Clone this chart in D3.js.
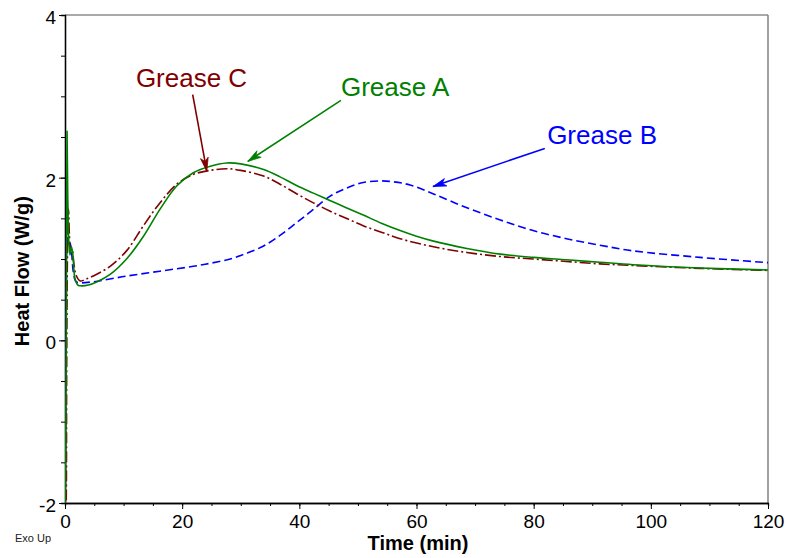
<!DOCTYPE html>
<html>
<head>
<meta charset="utf-8">
<script src="https://cdn.jsdelivr.net/npm/d3@7"></script>
<style>
  html, body { margin: 0; padding: 0; background: #fff; }
  svg { display: block; font-family: "Liberation Sans", Arial, sans-serif; }
</style>
</head>
<body>
<div id="chart"></div>
<script>
// ======================================================================
// DATA (time in min, heat flow in W/g)
// ======================================================================
const timeA = [0.05, 0.15, 0.25, 0.35, 0.45, 0.6, 0.85, 1.1, 1.35, 1.7, 2.2, 2.8, 4, 5.5, 7.7, 10.5,
  13.4, 16.2, 19.1, 21.9, 24.8, 27.6, 30, 33.9, 36.7, 39.6, 42.4, 45.2, 48, 50.9, 54, 57.2, 60,
  62.9, 68.6, 74.3, 79.9, 85.6, 91.3, 97, 108.4, 120];
const flowA = [-2.1, -1.0, 0.8, 2.57, 1.9, 1.3, 1.05, 1.15, 1.05, 0.76, 0.68, 0.67, 0.68, 0.72, 0.81, 1.0,
  1.28, 1.61, 1.9, 2.06, 2.14, 2.18, 2.17, 2.1, 2.01, 1.9, 1.81, 1.72, 1.63, 1.54, 1.44, 1.35, 1.28,
  1.22, 1.13, 1.06, 1.02, 0.99, 0.96, 0.93, 0.89, 0.865];

const timeB = [0.05, 0.15, 0.25, 0.32, 0.42, 0.6, 0.85, 1.1, 1.4, 1.8, 2.3, 4.8, 10.5, 16.2, 21.9, 25,
  28.2, 31, 33.9, 36.7, 39.6, 42.4, 45.2, 48, 50.9, 53.8, 56, 58.9, 62.9, 68.6, 74.3, 79.9, 85.6,
  91.3, 97, 108.4, 120];
const flowB = [-2.1, -0.8, 0.8, 2.02, 1.6, 1.15, 1.2, 1.1, 0.85, 0.73, 0.71, 0.72, 0.79, 0.85, 0.91, 0.95,
  1.0, 1.07, 1.16, 1.29, 1.45, 1.61, 1.77, 1.87, 1.94, 1.96, 1.95, 1.91, 1.8, 1.63, 1.48, 1.35, 1.25,
  1.17, 1.1, 1.02, 0.955];

const timeC = [0.1, 0.2, 0.28, 0.38, 0.5, 0.6, 0.75, 0.95, 1.2, 1.5, 1.9, 2.6, 3.5, 4.8, 7.7, 10.5,
  13.4, 16.2, 19.1, 21.9, 24.8, 27.6, 30, 33.9, 36.7, 39.6, 42.4, 45.2, 48, 50.9, 54, 57.2, 62.9,
  68.6, 74.3, 79.9, 85.6, 91.3, 97, 108.4, 120];
const flowC = [-2.2, -2.0, -0.5, 0.8, 1.45, 1.61, 1.3, 1.1, 1.12, 0.95, 0.8, 0.73, 0.75, 0.79, 0.91, 1.1,
  1.41, 1.69, 1.92, 2.04, 2.09, 2.11, 2.09, 2.02, 1.92, 1.8, 1.69, 1.59, 1.5, 1.41, 1.33, 1.25, 1.15,
  1.08, 1.03, 1.0, 0.97, 0.94, 0.92, 0.885, 0.86];

const xTicks = [0, 20, 40, 60, 80, 100, 120];
const yTicks = [-2, 0, 2, 4];

// annotations: label position, arrow tail and tip (all in data units)
const noteNames = ["Grease C", "Grease A", "Grease B"];
const noteColors = ["#800000", "#008000", "#0000ff"];
const noteText = [[12.1, 3.11], [47.1, 3.0], [82.3, 2.42]];
const noteTail = [[21.8, 3.02], [47.1, 2.95], [81.9, 2.36]];
const noteTip = [[24.2, 2.08], [31.2, 2.2], [62.8, 1.89]];

// ======================================================================
// LAYOUT
// ======================================================================
const width = 789, height = 558;
const margin = { top: 15, right: 21, bottom: 55, left: 65 };
const innerW = width - margin.left - margin.right;
const innerH = height - margin.top - margin.bottom;

const svg = d3.select("#chart").append("svg")
  .attr("width", width)
  .attr("height", height);

const g = svg.append("g")
  .attr("transform", `translate(${margin.left},${margin.top})`);

const x = d3.scaleLinear().domain([0, 120]).range([0, innerW]);
const y = d3.scaleLinear().domain([-2, 4]).range([innerH, 0]);

// clip the traces to the plot frame
svg.append("defs").append("clipPath").attr("id", "plot-clip")
  .append("rect").attr("width", innerW).attr("height", innerH);

// ======================================================================
// FRAME (top + right in grey)
// ======================================================================
g.append("line").attr("x1", 0).attr("x2", innerW).attr("y1", 0).attr("y2", 0)
  .attr("stroke", "#555").attr("stroke-width", 1.2);
g.append("line").attr("x1", innerW).attr("x2", innerW).attr("y1", 0).attr("y2", innerH)
  .attr("stroke", "#808080").attr("stroke-width", 1.5);

// ======================================================================
// AXES
// ======================================================================
const axisStyle = sel => {
  sel.select(".domain").attr("stroke", "#000").attr("stroke-width", 1.3);
  sel.selectAll(".tick line").attr("stroke", "#000");
};

// minor ticks first, majors on top
g.append("g")
  .attr("transform", `translate(0,${innerH})`)
  .call(d3.axisBottom(x).tickValues(d3.range(0, 121, 5)).tickSize(3).tickFormat(""))
  .call(axisStyle);
g.append("g")
  .attr("transform", `translate(0,${innerH})`)
  .call(d3.axisBottom(x).tickValues(xTicks).tickSize(6).tickPadding(6).tickSizeOuter(0))
  .call(axisStyle)
  .call(a => a.selectAll("text").attr("fill", "#000").style("font-size", "19px"));

g.append("g")
  .call(d3.axisLeft(y).tickValues(d3.range(-2, 4.01, 0.5)).tickSize(4).tickFormat(""))
  .call(axisStyle);
g.append("g")
  .call(d3.axisLeft(y).tickValues(yTicks).tickSize(6).tickPadding(3).tickSizeOuter(0)
    .tickFormat(d => String(d)))
  .call(axisStyle)
  .call(a => a.selectAll("text").attr("fill", "#000").attr("dy", "0.45em").style("font-size", "19px"));

// axis titles
svg.append("text")
  .attr("x", 418).attr("y", 550)
  .attr("text-anchor", "middle")
  .style("font-size", "20px").style("font-weight", "bold")
  .text("Time (min)");

svg.append("text")
  .attr("transform", `translate(29,${margin.top + y(0.85)}) rotate(-90)`)
  .attr("text-anchor", "middle")
  .style("font-size", "20px").style("font-weight", "bold")
  .text("Heat Flow (W/g)");

svg.append("text")
  .attr("x", 15).attr("y", 542)
  .style("font-size", "11px").attr("fill", "#222")
  .text("Exo Up");

// ======================================================================
// TRACES
// ======================================================================
const series = [
  { t: timeB, v: flowB, color: "#0000ff", dash: "8,4" },
  { t: timeC, v: flowC, color: "#800000", dash: "11,3,2,3" },
  { t: timeA, v: flowA, color: "#008000", dash: null }
];

const line = d3.line()
  .x(d => x(d[0]))
  .y(d => y(d[1]))
  .curve(d3.curveCatmullRom.alpha(0.5));

const traces = g.append("g").attr("clip-path", "url(#plot-clip)");
series.forEach(s => {
  traces.append("path")
    .datum(s.t.map((t, i) => [t, s.v[i]]))
    .attr("d", line)
    .attr("fill", "none")
    .attr("stroke", s.color)
    .attr("stroke-width", 1.6)
    .attr("stroke-dasharray", s.dash);
});

// ======================================================================
// ANNOTATIONS (label + arrow)
// ======================================================================
noteNames.forEach((name, i) => {
  const c = noteColors[i];
  g.append("text")
    .attr("x", x(noteText[i][0])).attr("y", y(noteText[i][1]))
    .attr("fill", c)
    .style("font-size", "26px")
    .text(name);

  const x1 = x(noteTail[i][0]), y1 = y(noteTail[i][1]);
  const x2 = x(noteTip[i][0]), y2 = y(noteTip[i][1]);
  g.append("line")
    .attr("x1", x1).attr("y1", y1).attr("x2", x2).attr("y2", y2)
    .attr("stroke", c).attr("stroke-width", 1.6);

  // narrow filled arrowhead
  const ang = Math.atan2(y2 - y1, x2 - x1);
  const len = 14, spread = 0.28;
  const p1 = [x2 - len * Math.cos(ang - spread), y2 - len * Math.sin(ang - spread)];
  const p2 = [x2 - len * Math.cos(ang + spread), y2 - len * Math.sin(ang + spread)];
  const pm = [x2 - len * 0.7 * Math.cos(ang), y2 - len * 0.7 * Math.sin(ang)];
  g.append("path")
    .attr("d", `M${x2},${y2}L${p1[0]},${p1[1]}L${pm[0]},${pm[1]}L${p2[0]},${p2[1]}Z`)
    .attr("fill", c).attr("stroke", c).attr("stroke-width", 0.8);
});
</script>
</body>
</html>
